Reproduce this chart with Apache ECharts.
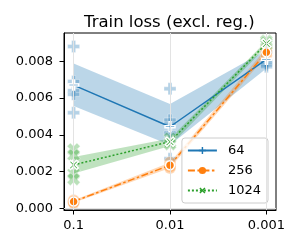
<!DOCTYPE html>
<html><head><meta charset="utf-8">
<script src="https://cdn.jsdelivr.net/npm/echarts@6/dist/echarts.min.js"></script>
<style>html,body{margin:0;padding:0;background:#fff}#c{width:300px;height:250px}</style>
</head><body><div id="c"></div>
<script>
const categories = ['0.1', '0.01', '0.001'];
const seriesNames = ['64', '256', '1024'];
const yTicks = [0, 0.002, 0.004, 0.006, 0.008];

const mean64 = [0.0067, 0.00444, 0.0081];
const lower64 = [0.00557, 0.00345, 0.0076];
const upper64 = [0.00788, 0.00567, 0.0086];
const points64 = [[0.0088, 0.0069, 0.0064, 0.0062, 0.0052], [0.0065, 0.0048, 0.0046, 0.0041, 0.0027], [0.0085, 0.0080, 0.0079, 0.0078, 0.0077]];

const mean256 = [0.00038, 0.00235, 0.00848];
const lower256 = [0.00032, 0.0022, 0.0083];
const upper256 = [0.00045, 0.0025, 0.0087];
const points256 = [[0.00045, 0.0004, 0.00035, 0.0003], [0.0025, 0.0023, 0.0022], [0.0087, 0.0085, 0.0083]];

const mean1024 = [0.00237, 0.00363, 0.00896];
const lower1024 = [0.0019, 0.0034, 0.0088];
const upper1024 = [0.0028, 0.0038, 0.0091];
const points1024 = [[0.0032, 0.0029, 0.0019, 0.0016], [0.0038, 0.0036, 0.0035], [0.0091, 0.0090, 0.0089]];

const FONT = 'DejaVu Sans';
const colors = ['#1f77b4', '#ff7f0e', '#2ca02c'];
const thinPlus = 'path://M-1,-5L1,-5L1,-1L5,-1L5,1L1,1L1,5L-1,5L-1,1L-5,1L-5,-1L-1,-1Z';
const fatPlus = 'path://M-1,-3L1,-3L1,-1L3,-1L3,1L1,1L1,3L-1,3L-1,1L-3,1L-3,-1L-1,-1Z';

const groups = [
  {name: seriesNames[0], mean: mean64, lo: lower64, hi: upper64, pts: points64, color: colors[0],
   sym: thinPlus, symSize: 10, rot: 0, ptSym: fatPlus, ptSize: 12, ptRot: 0, line: 'solid'},
  {name: seriesNames[1], mean: mean256, lo: lower256, hi: upper256, pts: points256, color: colors[1],
   sym: 'circle', symSize: 9, rot: 0, ptSym: 'circle', ptSize: 12, ptRot: 0, line: [7, 2.5, 2.5, 2.5]},
  {name: seriesNames[2], mean: mean1024, lo: lower1024, hi: upper1024, pts: points1024, color: colors[2],
   sym: thinPlus, symSize: 11, rot: 45, ptSym: fatPlus, ptSize: 14, ptRot: 45, line: [2, 2]}
];

function hexA(hex, a) {
  const n = parseInt(hex.slice(1), 16);
  return 'rgba(' + (n >> 16 & 255) + ',' + (n >> 8 & 255) + ',' + (n & 255) + ',' + a + ')';
}

const gridLineStyle = {color: '#e3e3e3', width: 1, type: 'solid'};
const series = [{
  type: 'line', silent: true, z: 0, data: [],
  markLine: {
    silent: true, symbol: 'none', animation: false, label: {show: false},
    lineStyle: gridLineStyle,
    data: categories.map(function (c, i) { return {xAxis: i}; })
      .concat(yTicks.map(function (v) { return {yAxis: v}; }))
  }
}];
groups.forEach(function (g) {
  series.push({
    type: 'custom', silent: true, z: 1,
    data: categories.map(function (c, i) { return [i, g.lo[i], g.hi[i]]; }),
    encode: {x: 0, y: [1, 2]},
    renderItem: function (params, api) {
      if (params.dataIndex !== 0) return null;
      const pts = [];
      for (let i = 0; i < g.hi.length; i++) pts.push(api.coord([i, g.hi[i]]));
      for (let i = g.lo.length - 1; i >= 0; i--) pts.push(api.coord([i, g.lo[i]]));
      return {type: 'polygon', shape: {points: pts}, style: {fill: hexA(g.color, 0.3)}};
    }
  });
});
groups.forEach(function (g) {
  const d = [];
  g.pts.forEach(function (arr, i) { arr.forEach(function (v) { d.push([i, v]); }); });
  series.push({
    type: 'scatter', silent: true, z: 2, data: d,
    symbol: g.ptSym, symbolSize: g.ptSize, symbolRotate: g.ptRot,
    itemStyle: {color: g.color, borderColor: '#fff', borderWidth: 1, opacity: 0.33}
  });
});
groups.forEach(function (g) {
  series.push({
    type: 'line', name: g.name, z: 3,
    data: g.mean.map(function (v, i) { return [i, v]; }),
    symbol: g.sym, symbolSize: g.symSize, symbolRotate: g.rot, showSymbol: true,
    lineStyle: {color: g.color, width: 1.5, type: g.line},
    itemStyle: {color: g.color, borderColor: '#fff', borderWidth: 1.5}
  });
});

const chart = echarts.init(document.getElementById('c'), null, {renderer: 'canvas'});
chart.setOption({
  animation: false,
  backgroundColor: '#fff',
  title: {
    text: 'Train loss (excl. reg.)', left: 84, top: 14, padding: 0,
    textStyle: {fontSize: 16.5, fontWeight: 'normal', color: '#000', fontFamily: FONT}
  },
  legend: {
    data: seriesNames, orient: 'vertical', right: 32, bottom: 47,
    itemWidth: 29, itemHeight: 9, itemGap: 7, padding: [6, 7, 6, 5],
    itemStyle: {borderWidth: 0},
    textStyle: {fontSize: 13, lineHeight: 13, color: '#000', fontFamily: FONT, padding: [0, 0, 0, 6]},
    backgroundColor: 'rgba(255,255,255,0.8)', borderColor: '#cccccc', borderWidth: 1, borderRadius: 3
  },
  grid: {left: 64, right: 24, top: 33, bottom: 40, show: true, borderColor: '#000', borderWidth: 1},
  xAxis: {
    type: 'value', min: -0.1, max: 2.1,
    axisLine: {show: true, onZero: false, lineStyle: {color: '#000', width: 1}},
    axisTick: {show: true, customValues: [0, 1, 2], length: 4.5, lineStyle: {color: '#000'}},
    axisLabel: {customValues: [0, 1, 2], formatter: function (v) { return categories[Math.round(v)]; },
      color: '#000', fontSize: 13, fontFamily: FONT, margin: 9},
    splitLine: {show: false}
  },
  yAxis: {
    type: 'value', min: -0.00008, max: 0.00953,
    axisLine: {show: true, onZero: false, lineStyle: {color: '#000', width: 1}},
    axisTick: {show: true, customValues: yTicks, length: 4.5, lineStyle: {color: '#000'}},
    axisLabel: {customValues: yTicks, formatter: function (v) { return v.toFixed(3); },
      color: '#000', fontSize: 13, fontFamily: FONT, margin: 11},
    splitLine: {show: false}
  },
  series: series
});
</script></body></html>
